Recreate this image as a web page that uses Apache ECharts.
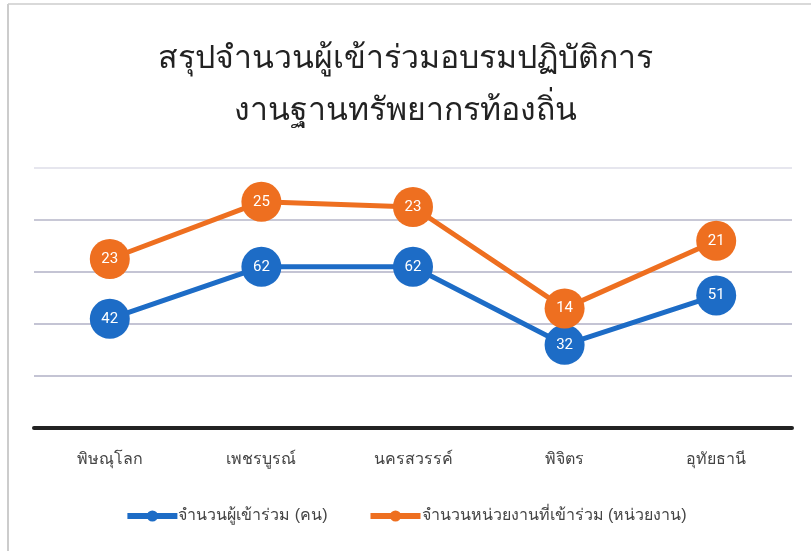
<!DOCTYPE html>
<html><head><meta charset="utf-8">
<script src="https://cdn.jsdelivr.net/npm/echarts@6/dist/echarts.min.js"></script>
<style>html,body{margin:0;padding:0;background:#fff}#c{width:811px;height:551px}</style>
</head><body><div id="c"></div>
<script>
const categories = ['พิษณุโลก','เพชรบูรณ์','นครสวรรค์','พิจิตร','อุทัยธานี'];
const participants = [42, 62, 62, 32, 51];
const agencies = [23, 25, 23, 14, 21];
const seriesNames = ['จำนวนผู้เข้าร่วม (คน)', 'จำนวนหน่วยงานที่เข้าร่วม (หน่วยงาน)'];
const titleText = 'สรุปจำนวนผู้เข้าร่วมอบรมปฏิบัติการ\nงานฐานทรัพยากรท้องถิ่น';

const blue = '#1d6cc6', orange = '#ee6f20';
const chart = echarts.init(document.getElementById('c'));
function mk(name, data, color) {
  return {
    name, type: 'line', stack: 'total', data,
    symbol: 'circle', symbolSize: 40,
    lineStyle: { width: 5, color },
    itemStyle: { color },
    label: { show: true, position: 'inside', color: '#fff', fontSize: 15, fontFamily: 'Roboto, sans-serif' },
    emphasis: { disabled: true }
  };
}
chart.setOption({
  animation: false,
  backgroundColor: '#fff',
  title: {
    text: titleText, left: 'center', top: 28,
    textStyle: { fontSize: 32, fontWeight: 'normal', color: '#222', lineHeight: 52 }
  },
  grid: { left: 34, right: 19, top: 168, bottom: 123 },
  legend: {
    bottom: 22, left: 'center', itemWidth: 50, itemHeight: 14, itemGap: 40,
    textStyle: { fontSize: 16, color: '#444', padding: [0, 0, 0, -4] },
    lineStyle: { width: 6 },
    data: seriesNames
  },
  xAxis: {
    type: 'category', data: categories, boundaryGap: true,
    axisLine: { lineStyle: { color: '#222', width: 4 } },
    axisTick: { show: false },
    axisLabel: { fontSize: 16, color: '#444', margin: 24 }
  },
  yAxis: {
    type: 'value', min: 0, max: 100, interval: 20,
    axisLabel: { show: false }, axisLine: { show: false }, axisTick: { show: false },
    splitLine: { lineStyle: { color: ['#c4c4d4', '#c4c4d4', '#c4c4d4', '#c4c4d4', '#c8c8d6', '#e6e6ee'], width: 2 } }
  },
  series: [mk(seriesNames[0], participants, blue), mk(seriesNames[1], agencies, orange)],
  graphic: [
    { type: 'line', shape: { x1: 8, y1: 4, x2: 8, y2: 551 }, style: { stroke: '#bbb', lineWidth: 1.5 } },
    { type: 'line', shape: { x1: 8, y1: 4, x2: 811, y2: 4 }, style: { stroke: '#ccc', lineWidth: 1.5 } }
  ]
});
</script></body></html>
